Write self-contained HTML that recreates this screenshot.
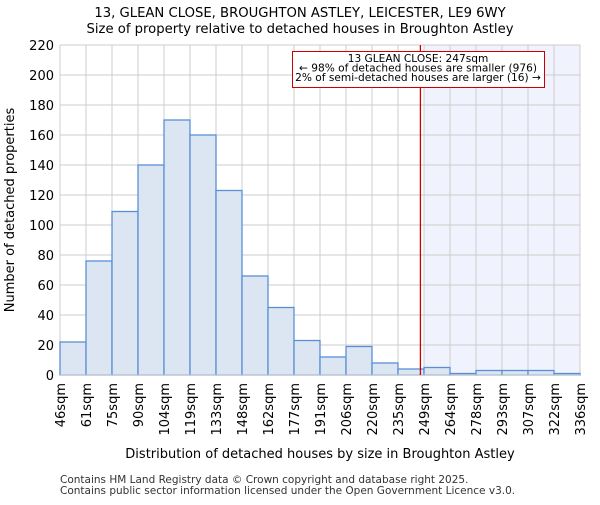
<!DOCTYPE html>
<html><head><meta charset="utf-8"><style>
body{margin:0;background:#fff;font-family:"Liberation Sans","DejaVu Sans",sans-serif}
text{font-family:"DejaVu Sans","Liberation Sans",sans-serif}
</style></head><body>
<svg id="chart" width="600" height="500" xmlns="http://www.w3.org/2000/svg">
<text x="300" y="17" text-anchor="middle" font-size="13.2">13, GLEAN CLOSE, BROUGHTON ASTLEY, LEICESTER, LE9 6WY</text>
<text x="300" y="33" text-anchor="middle" font-size="13.2">Size of property relative to detached houses in Broughton Astley</text>
<g id="plot"></g>
<text transform="translate(14,210) rotate(-90)" text-anchor="middle" font-size="13">Number of detached properties</text>
<text x="320" y="458" text-anchor="middle" font-size="13">Distribution of detached houses by size in Broughton Astley</text>
<text x="60" y="483" font-size="10.5" fill="#333">Contains HM Land Registry data © Crown copyright and database right 2025.</text>
<text x="60" y="494" font-size="10.5" fill="#333">Contains public sector information licensed under the Open Government Licence v3.0.</text>
</svg>
<script>
const categories=["46sqm","61sqm","75sqm","90sqm","104sqm","119sqm","133sqm","148sqm","162sqm","177sqm","191sqm","206sqm","220sqm","235sqm","249sqm","264sqm","278sqm","293sqm","307sqm","322sqm","336sqm"];
const counts=[22,76,109,140,170,160,123,66,45,23,12,19,8,4,5,1,3,3,3,1];
const yTicks=[0,20,40,60,80,100,120,140,160,180,200,220];
const binStart=46, binWidth=14.5, propertySize=247;
const X0=60,X1=580,Y0=375,Y1=45,yMax=220;
const bw=(X1-X0)/counts.length;
const xs=v=>X0+(v-binStart)/binWidth*bw;
const ys=v=>Y0-(v/yMax)*(Y0-Y1);
const NS="http://www.w3.org/2000/svg";
const g=document.getElementById('plot');
function mk(t,a){const e=document.createElementNS(NS,t);for(const k in a)e.setAttribute(k,a[k]);g.appendChild(e);return e;}
const px=xs(propertySize);
const startShade=X0+Math.ceil((propertySize-binStart)/binWidth)*bw;
const sh=mk('rect',{x:startShade,y:Y1,width:X1-startShade,height:Y0-Y1,fill:'#f0f3fd'});


yTicks.forEach(t=>{
 const l=mk('line',{x1:X0,x2:X1,y1:ys(t),y2:ys(t),stroke:'#cccccc','stroke-width':1});
 
 
 const tx=mk('text',{x:X0-6,y:ys(t)+5,'text-anchor':'end','font-size':13});
 tx.textContent=t;
 
 
});
categories.forEach((c,i)=>{
 const x=X0+i*bw;
 const l=mk('line',{x1:x,x2:x,y1:Y1,y2:Y0,stroke:'#cccccc','stroke-width':1});
 
 
 const tx=mk('text',{transform:`translate(${x+5},${Y0+8}) rotate(-90)`,'text-anchor':'end','font-size':13});
 tx.textContent=c;
 
 
});
counts.forEach((v,i)=>{
 const r=mk('rect',{x:X0+i*bw,y:ys(v),width:bw,height:Y0-ys(v),fill:'#dce6f2',stroke:'#5a8fd6','stroke-width':1.3});
 
 
});
const ax=mk('line',{x1:X0,x2:X1,y1:Y0,y2:Y0,stroke:'#ccc'});


const pl=mk('line',{x1:px,x2:px,y1:Y1,y2:Y0,stroke:'#cc0000','stroke-width':1.3});


const box=mk('rect',{x:292.5,y:51.5,width:252,height:36,fill:'#fff',stroke:'#cc0000','stroke-width':1});


["13 GLEAN CLOSE: 247sqm","← 98% of detached houses are smaller (976)","2% of semi-detached houses are larger (16) →"].forEach((s,i)=>{
 const t=mk('text',{x:418,y:62+i*9.6,'text-anchor':'middle','font-size':10.6});
 t.textContent=s;
 
 
});
</script>
</body></html>
